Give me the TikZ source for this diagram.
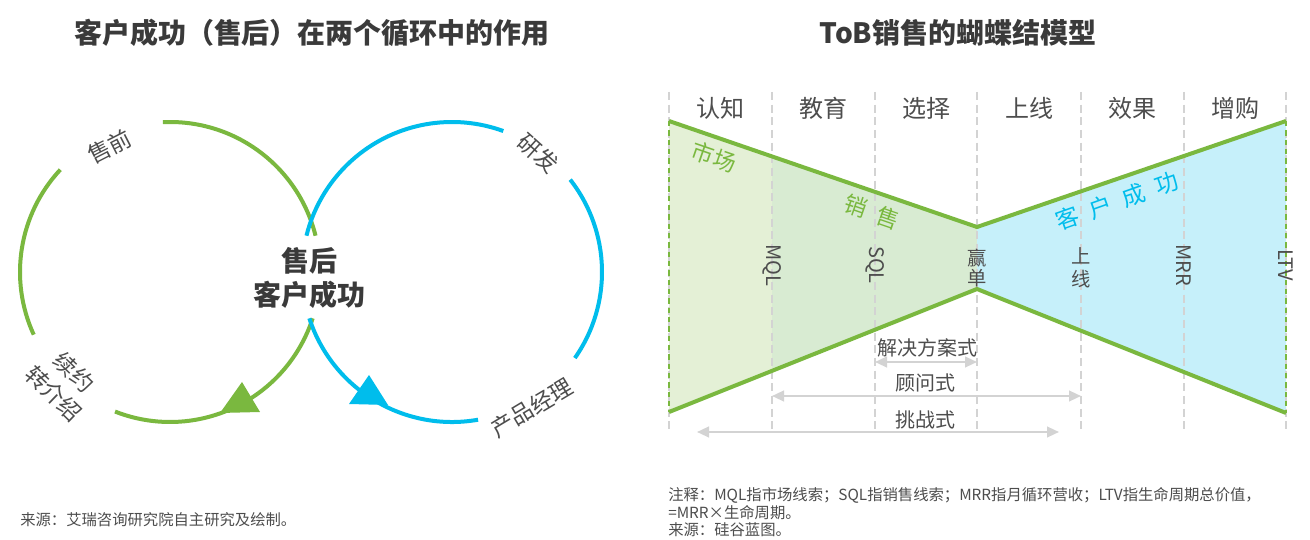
\documentclass[tikz,border=0pt]{standalone}
\usepackage{fontspec}
\setmainfont{Noto Sans CJK SC}
\usetikzlibrary{arrows.meta}
\definecolor{gcol}{HTML}{7AB83F}
\definecolor{bcol}{HTML}{00BDEC}
\definecolor{fillA}{HTML}{E4F0D6}
\definecolor{fillB}{HTML}{D8EBD2}
\definecolor{fillC}{HTML}{C6F0FA}
\definecolor{dgray}{HTML}{D3D3D3}
\definecolor{txt}{HTML}{4D4D4D}
\definecolor{ttl}{HTML}{3A3A3A}
\tikzset{
  ring/.style={line width=3pt},
  gring/.style={ring, draw=gcol},
  bring/.style={ring, draw=bcol},
  edge/.style={draw=gcol, line width=3pt, line join=round},
  vdash/.style={draw=dgray, line width=2.2pt, dash pattern=on 6pt off 3.5pt},
  gdash/.style={draw=gcol, line width=2.2pt, dash pattern=on 4pt off 3pt},
  garrow/.style={draw=dgray, line width=1.6pt, {Triangle[length=9pt,width=8pt]}-{Triangle[length=9pt,width=8pt]}},
  ttlfont/.style={font=\fontsize{21}{25}\selectfont\bfseries, text=ttl, inner sep=0},
  lbl/.style={font=\fontsize{17}{20}\selectfont, text=txt, inner sep=0},
  hdr/.style={font=\fontsize{18}{21}\selectfont, text=txt, inner sep=0},
  vlbl/.style={font=\fontsize{15}{18}\selectfont, text=txt, inner sep=0},
  slbl/.style={font=\fontsize{14.5}{15}\selectfont, text=txt, inner sep=0, align=center},
  alb/.style={font=\fontsize{15}{18}\selectfont, text=txt, inner sep=0},
  note/.style={font=\fontsize{11.5}{14}\selectfont, text=txt, inner sep=0, anchor=west},
}
\begin{document}
\begin{tikzpicture}[x=0.75pt,y=0.75pt]
\useasboundingbox (0,0) rectangle (1310,539);
\fill[white] (0,0) rectangle (1310,539);

% titles
\node[ttlfont] (t1) at (312,506) {客户成功（售后）在两个循环中的作用};
\node[ttlfont] (t2) at (958,506) {ToB销售的蝴蝶结模型};

% ---------- left: two rings ----------
\coordinate (gc) at (170,267);
\coordinate (bc) at (452,267);
\draw[gring] (gc) ++(14:150) arc[start angle=14, end angle=92.7, radius=150];
\draw[gring] (gc) ++(-18:150) arc[start angle=-18, end angle=-111.5, radius=150];
\draw[gring] (gc) ++(137:150) arc[start angle=137, end angle=204.7, radius=150];
\fill[gcol] (220,126) -- (242,157) -- (260,127) -- cycle;

\draw[bring] (bc) ++(70:150) arc[start angle=70, end angle=166, radius=150];
\draw[bring] (bc) ++(38:150) arc[start angle=38, end angle=-35, radius=150];
\draw[bring] (bc) ++(198:150) arc[start angle=198, end angle=280, radius=150];
\fill[bcol] (388,134) -- (349,135) -- (369,164) -- cycle;

\node[font=\fontsize{21}{25.5}\selectfont\bfseries, text=ttl, align=center, inner sep=0] (core) at (309,261) {售后\\客户成功};
\node[lbl, rotate=27] (pre) at (110,392) {售前};
\node[lbl, rotate=-42] (rd) at (538,386) {研发};
\node[lbl, rotate=31] (pm) at (532,131) {产品经理};
\node[lbl, rotate=-44, align=center, font=\fontsize{17}{22}\selectfont] (renew) at (64,156) {续约\\转介绍};

\node[note] (src1) at (20,19) {来源：艾瑞咨询研究院自主研究及绘制。};

% ---------- right: bow tie ----------
\fill[fillA] (669,418) -- (772,382.6) -- (772,167.8) -- (669,127) -- cycle;
\fill[fillB] (772,382.6) -- (977,312) -- (977,250) -- (772,167.8) -- cycle;
\fill[fillC] (977,312) -- (1286,418) -- (1286,126) -- (977,250) -- cycle;

\foreach \x/\n in {669/a,772/b,875/c,977/d,1081/e,1184/f,1286/g}{
  \coordinate (top\n) at (\x,447);
  \coordinate (bot\n) at (\x,106);
  \draw[vdash] (top\n) -- (bot\n);
}
\coordinate (ea1) at (669,418); \coordinate (ea2) at (669,127);
\coordinate (eb1) at (1286,418); \coordinate (eb2) at (1286,126);
\draw[gdash] (ea1) -- (ea2);
\draw[gdash] (eb1) -- (eb2);

\coordinate (lt) at (669,418); \coordinate (mt) at (977,312); \coordinate (rt) at (1286,418);
\coordinate (lb) at (669,127); \coordinate (mb) at (977,250); \coordinate (rb) at (1286,126);
\draw[edge] (lt) -- (mt) -- (rt);
\draw[edge] (lb) -- (mb) -- (rb);

% header labels
\node[hdr] (h1) at (720,431) {认知};
\node[hdr] (h2) at (823,431) {教育};
\node[hdr] (h3) at (926,431) {选择};
\node[hdr] (h4) at (1029,431) {上线};
\node[hdr] (h5) at (1132,431) {效果};
\node[hdr] (h6) at (1235,431) {增购};

% coloured stage labels
\node[lbl, text=gcol, rotate=-19] (mk) at (714,382) {市场};
\node[lbl, text=gcol, rotate=-19] (sl) at (872,327) {销\kern9pt售};
\node[lbl, text=bcol, rotate=19.5, font=\fontsize{17.5}{20}\selectfont] (cs) at (1117,338) {客\kern9pt户\kern9pt成\kern9pt功};

% vertical markers
\node[vlbl, rotate=-90] (mql) at (772,274) {MQL};
\node[vlbl, rotate=-90] (sql) at (875,274) {SQL};
\node[slbl] (win) at (977,271) {赢\\单};
\node[slbl, font=\fontsize{14.5}{17}\selectfont] (onl) at (1081,271) {上\\线};
\node[vlbl, rotate=-90] (mrr) at (1184,274) {MRR};
\node[vlbl, rotate=-90] (ltv) at (1286,274) {LTV};

% sales approach arrows
\coordinate (s1a) at (875,177); \coordinate (s1b) at (977,177);
\coordinate (s2a) at (772,143); \coordinate (s2b) at (1081,143);
\coordinate (s3a) at (697,107); \coordinate (s3b) at (1059,107);
\draw[garrow] (s1a) -- (s1b);
\draw[garrow] (s2a) -- (s2b);
\draw[garrow] (s3a) -- (s3b);
\node[alb] (ap1) at (927,191) {解决方案式};
\node[alb] (ap2) at (925,156) {顾问式};
\node[alb] (ap3) at (925,119) {挑战式};

% notes
\node[note] (n1) at (668,44) {注释：MQL指市场线索；SQL指销售线索；MRR指月循环营收；LTV指生命周期总价值，};
\node[note] (n2) at (668,26) {=MRR×生命周期。};
\node[note] (n3) at (668,9) {来源：硅谷蓝图。};
\end{tikzpicture}
\end{document}
